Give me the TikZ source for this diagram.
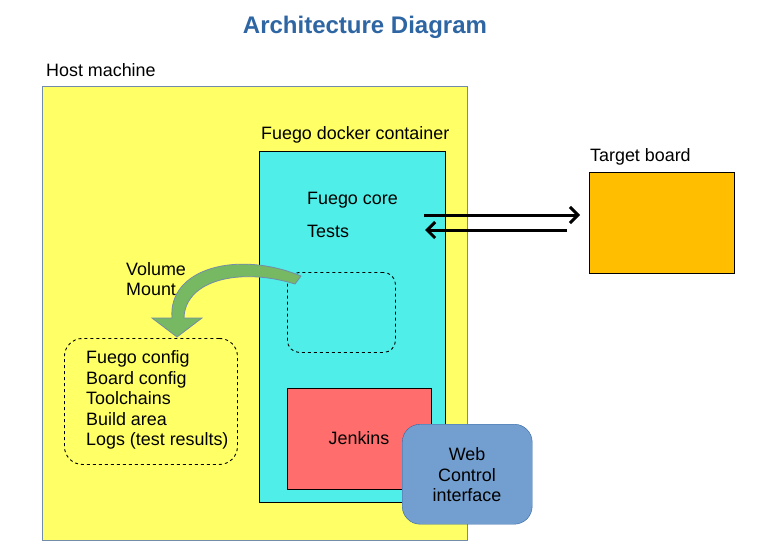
\documentclass[tikz,border=0pt]{standalone}
\usepackage{fontspec}
\setmainfont{Liberation Sans}
\usetikzlibrary{positioning,arrows.meta}
\definecolor{hostyellow}{RGB}{255,255,102}
\definecolor{hostline}{RGB}{114,140,170}
\definecolor{dockcyan}{RGB}{80,238,232}
\definecolor{boardorange}{RGB}{255,191,0}
\definecolor{jenkred}{RGB}{255,109,109}
\definecolor{webblue}{RGB}{114,159,207}
\definecolor{webline}{RGB}{52,101,164}
\definecolor{titleblue}{RGB}{46,101,163}
\definecolor{mountgreen}{RGB}{119,184,98}
\begin{document}
\begin{tikzpicture}[x=1pt,y=-1pt]
            \tikzset{
                lbl/.style={anchor=west,inner sep=0pt,font=\fontsize{17.9}{20.5}\selectfont},
                area/.style={anchor=north west,inner sep=0pt,draw},
                dashbox/.style={area,dashed,rounded corners=12pt,line width=0.9pt},
                link/.style={line width=3pt,-{Straight Barb[length=8pt,width=16pt,line width=3pt]}},}
            \useasboundingbox (0,0) rectangle (762,551);
            % title
            \node[font=\bfseries\fontsize{24}{28}\selectfont,text=titleblue] (title) at (365,27) {Architecture Diagram};
            % host machine
            \node[area,fill=hostyellow,draw=hostline,minimum width=425pt,minimum height=454pt] (host) at (42,86) {};
            \node[lbl] (hostlbl) at (46,70) {Host machine};
            % docker container
            \node[area,fill=dockcyan,line width=0.9pt,minimum width=186pt,minimum height=351pt] (dock) at (259,151) {};
            \node[lbl] (docklbl) at (261,135) {Fuego docker container};
            \node[lbl] (core) at (307,200) {Fuego core};
            \node[lbl] (tests) at (307,231) {Tests};
            \node[dashbox,minimum width=108pt,minimum height=80pt] (mnt) at (287,272) {};
            \node[area,fill=jenkred,line width=0.9pt,minimum width=144pt,minimum height=101pt] (jenk) at (287,388) {};
            \node[lbl,anchor=center] (jenklbl) at (359,438) {Jenkins};
            % target
            \node[area,fill=boardorange,line width=0.9pt,minimum width=145pt,minimum height=101pt] (board) at (589,172) {};
            \node[lbl] (boardlbl) at (590,157) {Target board};
            % host side storage
            \node[dashbox,rounded corners=18pt,minimum width=173pt,minimum height=126pt] (store) at (64,338) {};
            \node[lbl,align=left] (storelbl) at (86,400) {Fuego config\\Board config\\Toolchains\\Build area\\Logs (test results)};
            \node[lbl,align=left] (vollbl) at (126,279) {Volume\\Mount};
            % web interface
            \node[area,fill=webblue,draw=webline,rounded corners=18pt,minimum width=130pt,minimum height=100pt] (web) at (402,424) {};
            \node[lbl,anchor=center,align=center] (weblbl) at (467,475) {Web\\Control\\interface};
            % links to the board
            \coordinate (outA) at (424,215);
            \coordinate (outB) at (580,215);
            \coordinate (inA) at (567,230);
            \coordinate (inB) at (425,230);
            \draw[link] (outA) -- (outB);
            \draw[link] (inA) -- (inB);
            % volume mount arrow
            \filldraw[fill=mountgreen,draw=hostline,line width=0.8pt]
                (172,318) .. controls (168,268) and (238,250) .. (301,276)
                -- (295,284)
                .. controls (240,267) and (185,280) .. (184,318)
                -- (202,318) -- (177,337) -- (152,318) -- cycle;
\end{tikzpicture}
\end{document}
